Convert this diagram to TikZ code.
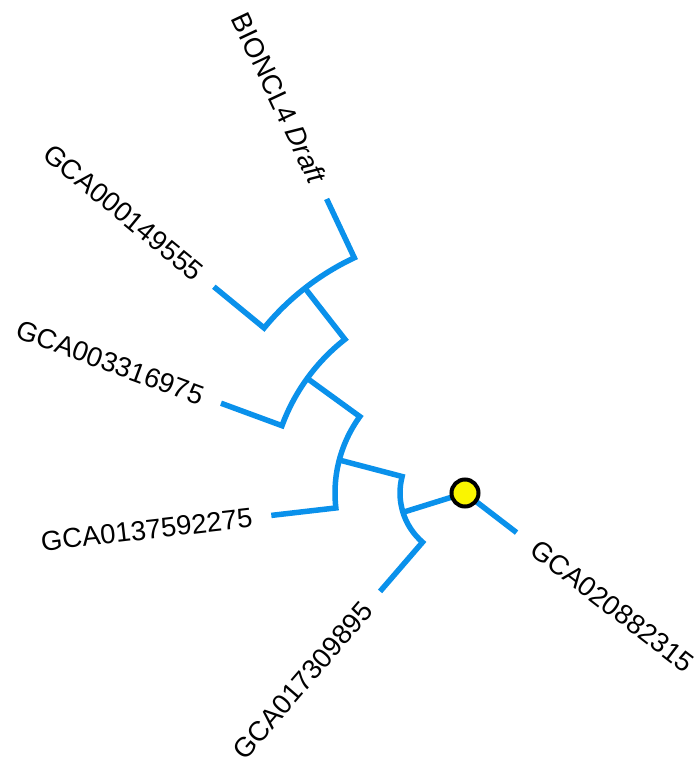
\documentclass[tikz,border=0pt]{standalone}
\usepackage{fontspec}
\setmainfont{Liberation Sans}
\definecolor{treeblue}{RGB}{10,145,235}
\definecolor{rootyellow}{RGB}{250,245,0}
\begin{document}
\begin{tikzpicture}[x=1pt,y=1pt,
  branch/.style={draw=treeblue, line width=5.5pt, line join=miter},
  leaflabel/.style={font=\fontsize{27.5}{32}\selectfont, inner sep=3pt, text=black},
  rootdot/.style={circle, fill=rootyellow, draw=black, line width=4pt,
                  minimum size=27pt, inner sep=0pt}]
\useasboundingbox (0,0) rectangle (695,-758);
\begin{scope}[shift={(465,-493)}]
  % circular cladogram: every level is 65pt further out
  \coordinate (root) at (0,0);
  \coordinate (E) at (197.3:65);
  \coordinate (D) at (165.3:130);
  \coordinate (C) at (144:195);
  \coordinate (B) at (128:260);
  % arc starts
  \coordinate (Ea) at (165.3:65);
  \coordinate (Da) at (144:130);
  \coordinate (Ca) at (128:195);
  \coordinate (Ba) at (115.2:260);
  % tips
  \coordinate (t1) at (115.2:325);
  \coordinate (t2) at (140.6:325);
  \coordinate (t3) at (159.8:260);
  \coordinate (t4) at (186.6:195);
  \coordinate (t5) at (229.2:130);
  \coordinate (t6) at (-37.5:65);

  % clades
  \draw[branch] (t1) -- (Ba) arc[start angle=115.2, end angle=140.6, radius=260] -- (t2);
  \draw[branch] (B) -- (Ca) arc[start angle=128, end angle=159.8, radius=195] -- (t3);
  \draw[branch] (C) -- (Da) arc[start angle=144, end angle=186.6, radius=130] -- (t4);
  \draw[branch] (D) -- (Ea) arc[start angle=165.3, end angle=229.2, radius=65] -- (t5);
  \draw[branch] (E) -- (root);
  \draw[branch] (root) -- (t6);

  \node[rootdot] (rootnode) at (root) {};

  % leaf labels
  \node[leaflabel, anchor=east, rotate=-64.8] (l1) at (115.2:340) {BIONCL4 \textit{Draft}};
  \node[leaflabel, anchor=east, rotate=-39.4] (l2) at (140.6:340) {GCA000149555};
  \node[leaflabel, anchor=east, rotate=-20.2] (l3) at (159.8:276) {GCA003316975};
  \node[leaflabel, anchor=east, rotate=6.6]   (l4) at (186.6:211) {GCA0137592275};
  \node[leaflabel, anchor=east, rotate=49.2]  (l5) at (229.2:146) {GCA017309895};
  \node[leaflabel, anchor=west, rotate=-37.5] (l6) at (-37.5:84)  {GCA020882315};
\end{scope}
\end{tikzpicture}
\end{document}
